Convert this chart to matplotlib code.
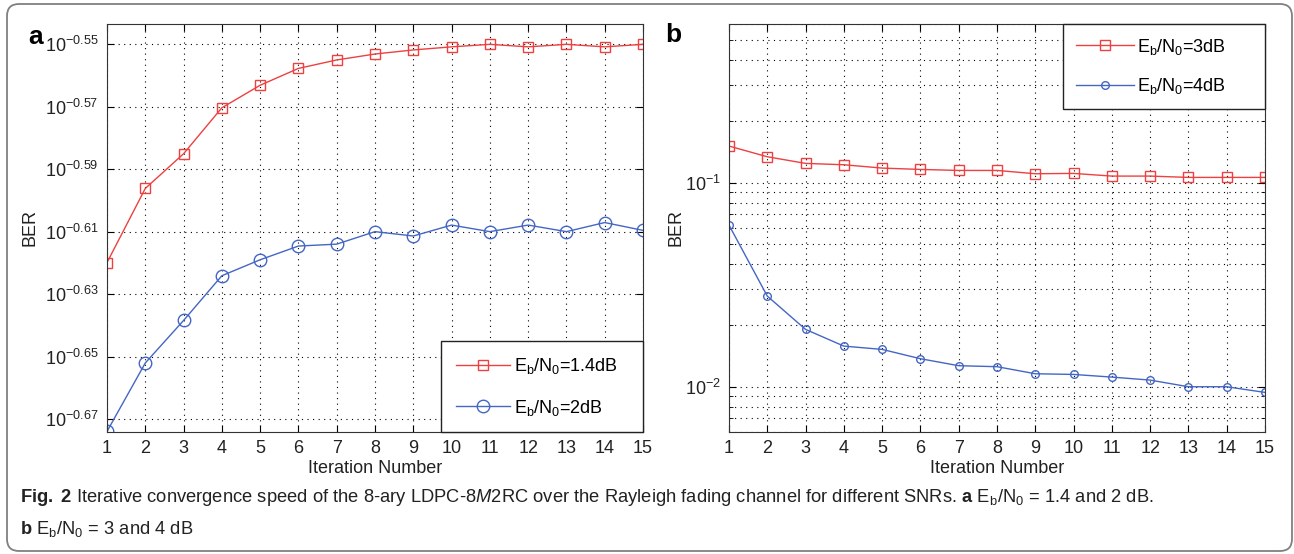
import numpy as np
import matplotlib
matplotlib.use('Agg')
import matplotlib.pyplot as plt
from matplotlib.patches import FancyBboxPatch
from matplotlib.ticker import FixedLocator, FixedFormatter, LogLocator, NullFormatter

# fonts
plt.rcParams['font.family'] = ['Liberation Sans', 'DejaVu Sans']
plt.rcParams['mathtext.fontset'] = 'custom'
plt.rcParams['mathtext.bf'] = 'Liberation Sans:bold'
plt.rcParams['mathtext.it'] = 'Liberation Sans:italic'
plt.rcParams['mathtext.rm'] = 'Liberation Sans'

# data ------------------------------------------------------------------------
iters = np.arange(1, 16)

# panel a, BER
ber_a_14 = [0.23994, 0.25340, 0.25996, 0.26891, 0.27341, 0.27682, 0.27855, 0.27977,
            0.28061, 0.28125, 0.28177, 0.28125, 0.28177, 0.28125, 0.28177]
ber_a_2 = [0.21189, 0.22284, 0.22993, 0.23763, 0.24044, 0.24288, 0.24322, 0.24547,
           0.24468, 0.24666, 0.24547, 0.24666, 0.24547, 0.24712, 0.24570]
yexp_a = [-0.67, -0.65, -0.63, -0.61, -0.59, -0.57, -0.55]

# panel b
ber_b_3 = [0.1513, 0.1341, 0.1244, 0.1225, 0.1180, 0.1162, 0.1149, 0.1149,
           0.1107, 0.1111, 0.1078, 0.1078, 0.1062, 0.1062, 0.1062]
ber_b_4 = [0.0620, 0.02782, 0.0191, 0.01582, 0.01524, 0.01372, 0.01268, 0.01254,
           0.01158, 0.01149, 0.01115, 0.01078, 0.0100, 0.0100, 0.00938]

# trailing spaces give the wide right margin of the MATLAB legend box
labels_a = [r'$\mathregular{E_b/N_0}$=1.4dB   ', r'$\mathregular{E_b/N_0}$=2dB']
labels_b = [r'$\mathregular{E_b/N_0}$=3dB      ', r'$\mathregular{E_b/N_0}$=4dB']

caption1 = (r'$\mathbf{Fig.}$ $\mathbf{2}$ Iterative convergence speed of the 8-ary LDPC-8$\mathit{M}$2RC '
            r'over the Rayleigh fading channel for different SNRs. $\mathbf{a}$ '
            r'E$_\mathrm{b}$/N$_\mathrm{0}$ = 1.4 and 2 dB.')
caption2 = r'$\mathbf{b}$ E$_\mathrm{b}$/N$_\mathrm{0}$ = 3 and 4 dB'

# style -----------------------------------------------------------------------
W, H = 1294, 554
red = '#ee4040'
blue = '#4466c4'
grid_ls = (0, (1, 4))
fs = 13
txt = '#222222'

fig = plt.figure(figsize=(W / 100, H / 100), dpi=100)

# pixel overlay for border and caption
bg = fig.add_axes([0, 0, 1, 1])
bg.set_xlim(0, W)
bg.set_ylim(0, H)
bg.axis('off')
bg.add_patch(FancyBboxPatch((7, H - 551), 1285, 547, boxstyle='round,pad=0,rounding_size=12',
                            fc='none', ec='#808080', lw=1.3))
bg.text(20, H - 498, caption1, fontsize=13.2, va='center', ha='left', color=txt)
bg.text(20, H - 529, caption2, fontsize=13.2, va='center', ha='left', color=txt)


def style_axes(ax, ylab_x):
    ax.set_xlim(1, 15)
    ax.set_xticks(iters)
    ax.tick_params(which='both', direction='in', top=True, right=True, labelsize=fs,
                   pad=6, labelcolor=txt)
    ax.tick_params(which='major', length=5)
    ax.tick_params(which='minor', length=3)
    for s in ax.spines.values():
        s.set_color('#333333')
    ax.set_xlabel('Iteration Number', fontsize=fs, labelpad=2, color=txt)
    ax.set_ylabel('BER', fontsize=fs, color=txt)
    ax.yaxis.set_label_coords(ylab_x, 0.5)


# panel a ---------------------------------------------------------------------
ax1 = fig.add_axes([107 / W, 1 - 432 / H, 536 / W, 408 / H])
ax1.set_yscale('log')
ax1.plot(iters, ber_a_14, '-s', color=red, lw=1, ms=7.5, mfc='none', mew=1, label=labels_a[0])
ax1.plot(iters, ber_a_2, '-o', color=blue, lw=1, ms=9, mfc='none', mew=1, label=labels_a[1])
ax1.set_ylim(0.2118, 10 ** -0.5436)
ax1.yaxis.set_major_locator(FixedLocator([10 ** e for e in yexp_a]))
ax1.yaxis.set_major_formatter(FixedFormatter([r'$\mathregular{10^{%.2f}}$' % e for e in yexp_a]))
ax1.yaxis.set_minor_locator(FixedLocator([]))
ax1.grid(True, which='major', color='k', ls=grid_ls, lw=0.8)
style_axes(ax1, (38 - 107) / 536)
leg = ax1.legend(loc='lower right', fancybox=False, framealpha=1,
                 edgecolor='#222222', fontsize=fs, handlelength=3.0, labelspacing=1.2,
                 borderpad=0.8, handletextpad=0.2, borderaxespad=0)
leg.get_frame().set_linewidth(1)
fig.text(36 / W, 1 - 37 / H, 'a', fontsize=19, fontweight='bold', ha='center', va='center')

# panel b ---------------------------------------------------------------------
ax2 = fig.add_axes([729 / W, 1 - 432 / H, 536 / W, 408 / H])
ax2.set_yscale('log')
ax2.plot(iters, ber_b_3, '-s', color=red, lw=1, ms=7, mfc='none', mew=1, label=labels_b[0])
ax2.plot(iters, ber_b_4, '-o', color=blue, lw=1, ms=5.5, mfc='none', mew=1, label=labels_b[1])
ax2.set_ylim(0.006, 0.6)
ax2.yaxis.set_major_locator(LogLocator(base=10, numticks=10))
ax2.yaxis.set_minor_locator(LogLocator(base=10, subs=np.arange(2, 10), numticks=10))
ax2.yaxis.set_minor_formatter(NullFormatter())
ax2.grid(True, which='both', color='k', ls=grid_ls, lw=0.8)
style_axes(ax2, (684 - 729) / 536)
leg = ax2.legend(loc='upper right', fancybox=False, framealpha=1,
                 edgecolor='#222222', fontsize=fs, handlelength=3.2, labelspacing=1.1,
                 borderpad=0.7, handletextpad=0.2, borderaxespad=0)
leg.get_frame().set_linewidth(1)
fig.text(673 / W, 1 - 35 / H, 'b', fontsize=19, fontweight='bold', ha='center', va='center')

fig.savefig('out.png', dpi=100, facecolor='white')
